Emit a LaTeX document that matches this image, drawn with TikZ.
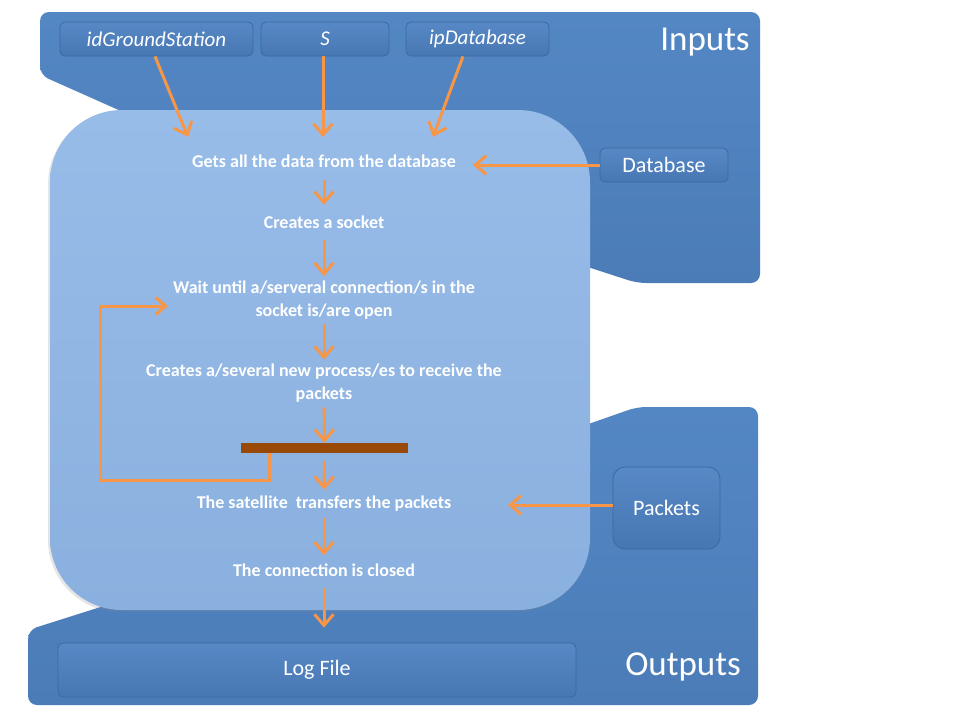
\documentclass[tikz,border=0pt]{standalone}
\usepackage{fontspec}
\setmainfont{Carlito}
\usetikzlibrary{arrows.meta,shadows,calc}
\definecolor{darkT}{HTML}{5387C4}
\definecolor{darkB}{HTML}{4B7CB8}
\definecolor{lightT}{HTML}{98BCE8}
\definecolor{lightB}{HTML}{8AB0DF}
\definecolor{boxT}{HTML}{5789C6}
\definecolor{boxB}{HTML}{4777B3}
\definecolor{boxline}{HTML}{3A69A3}
\definecolor{orangeA}{HTML}{F79646}
\definecolor{barC}{HTML}{984807}
\begin{document}
\begin{tikzpicture}[x=1pt,y=-1pt,
  arr/.style={draw=orangeA, line width=3pt, -{Straight Barb[length=11pt,width=19pt,line width=3pt]}},
  inbox/.style={draw=boxline, line width=0.8pt, rounded corners=5pt, top color=boxT, bottom color=boxB,
     text=white, inner sep=0pt, minimum height=34pt},
  inlab/.style={inbox, font=\fontsize{21}{25}\selectfont\itshape},
  uplab/.style={inbox, font=\fontsize{22}{26}\selectfont},
  proc/.style={text=white, font=\fontsize{18}{23}\selectfont\bfseries, align=center, inner sep=0pt},
  one/.style={proc, text height=12.5pt, text depth=3.5pt},
  big/.style={text=white, font=\fontsize{35}{40}\selectfont, inner sep=0pt}
]
\useasboundingbox (0,0) rectangle (960,720);
\fill[white] (0,0) rectangle (960,720);

% Inputs area
\path[top color=darkT, bottom color=darkB, rounded corners=9pt]
  (40,75) -- (40,12) -- (760,12) -- (760,283) -- (637,283) -- (560,258) -- (560,150) -- (150,124) -- cycle;
% Outputs area
\path[top color=darkT, bottom color=darkB, rounded corners=9pt]
  (28,630) -- (28,705) -- (758,705) -- (758,407) -- (637,407) -- (560,434) -- (400,500) -- (110,604) -- cycle;
% process area
\path[top color=lightT, bottom color=lightB, rounded corners=72pt, drop shadow={shadow xshift=-2pt, shadow yshift=-2pt, opacity=0.2}]
  (50,110) rectangle (590,610);

\node[big] (inputs) at (705,42) {Inputs};
\node[big] (outputs) at (683,667) {Outputs};

\node[inlab, minimum width=193pt] (ig) at (156.5,39) {idGroundStation};
\node[inlab, minimum width=128pt] (s) at (325,39) {S};
\node[inlab, minimum width=143pt] (ipd) at (477.5,39) {ipDatabase};
\node[uplab, minimum width=128pt] (db) at (664,165) {Database};
\node[uplab, minimum width=107pt, minimum height=82pt, rounded corners=12pt] (pk) at (666.5,508) {Packets};
\node[uplab, minimum width=518pt, minimum height=54pt] (log) at (317,670) {Log File};

\node[one] (n1) at (324,163) {Gets all the data from the database};
\node[one] (n2) at (324,224) {Creates a socket};
\node[proc] (n3) at (324,300.5) {Wait until a/serveral connection/s in the\\socket is/are open};
\node[proc] (n4) at (324,383.5) {Creates a/several new process/es to receive the\\packets};
\node[fill=barC, minimum width=167pt, minimum height=10pt, inner sep=0pt] (bar) at (324.5,448) {};
\node[one] (n6) at (324,504) {The satellite\ \ transfers the packets};
\node[one] (n7) at (324,572) {The connection is closed};

\coordinate (i1) at (188,137);
\coordinate (i2) at (323,137);
\coordinate (i3) at (433,137);
\coordinate (dbin) at (473,165);
\coordinate (pkin) at (508,505);
\coordinate (lp) at (100,480);
\coordinate (lpt) at (168,306);

\draw[arr] ([xshift=-1.5pt]ig.south) -- (i1);
\draw[arr] ([xshift=-2pt]s.south) -- (i2);
\draw[arr] ([xshift=-14.5pt]ipd.south) -- (i3);
\draw[arr] (db.west) -- (dbin);
\draw[arr] (pk.west |- pkin) -- (pkin);

\draw[arr, shorten <=9pt, shorten >=11pt] (n1) -- (n2);
\draw[arr, shorten <=8pt, shorten >=5pt] (n2) -- (n3);
\draw[arr, shorten <=4.5pt, shorten >=4.5pt] (n3) -- (n4);
\draw[arr, shorten <=4.5pt] (n4) -- (bar);
\draw[arr, shorten <=8pt, shorten >=6pt] (bar) -- (n6);
\draw[arr, shorten <=5.5pt, shorten >=8.5pt] (n6) -- (n7);
\draw[arr, shorten <=7.5pt, shorten >=15pt] (n7.south) -- (n7.south |- log.north);

\draw[arr, -{Straight Barb[length=10pt,width=17pt,line width=3pt]}] ([xshift=29pt]bar.south west) |- (lp) |- (lpt);
\end{tikzpicture}
\end{document}
